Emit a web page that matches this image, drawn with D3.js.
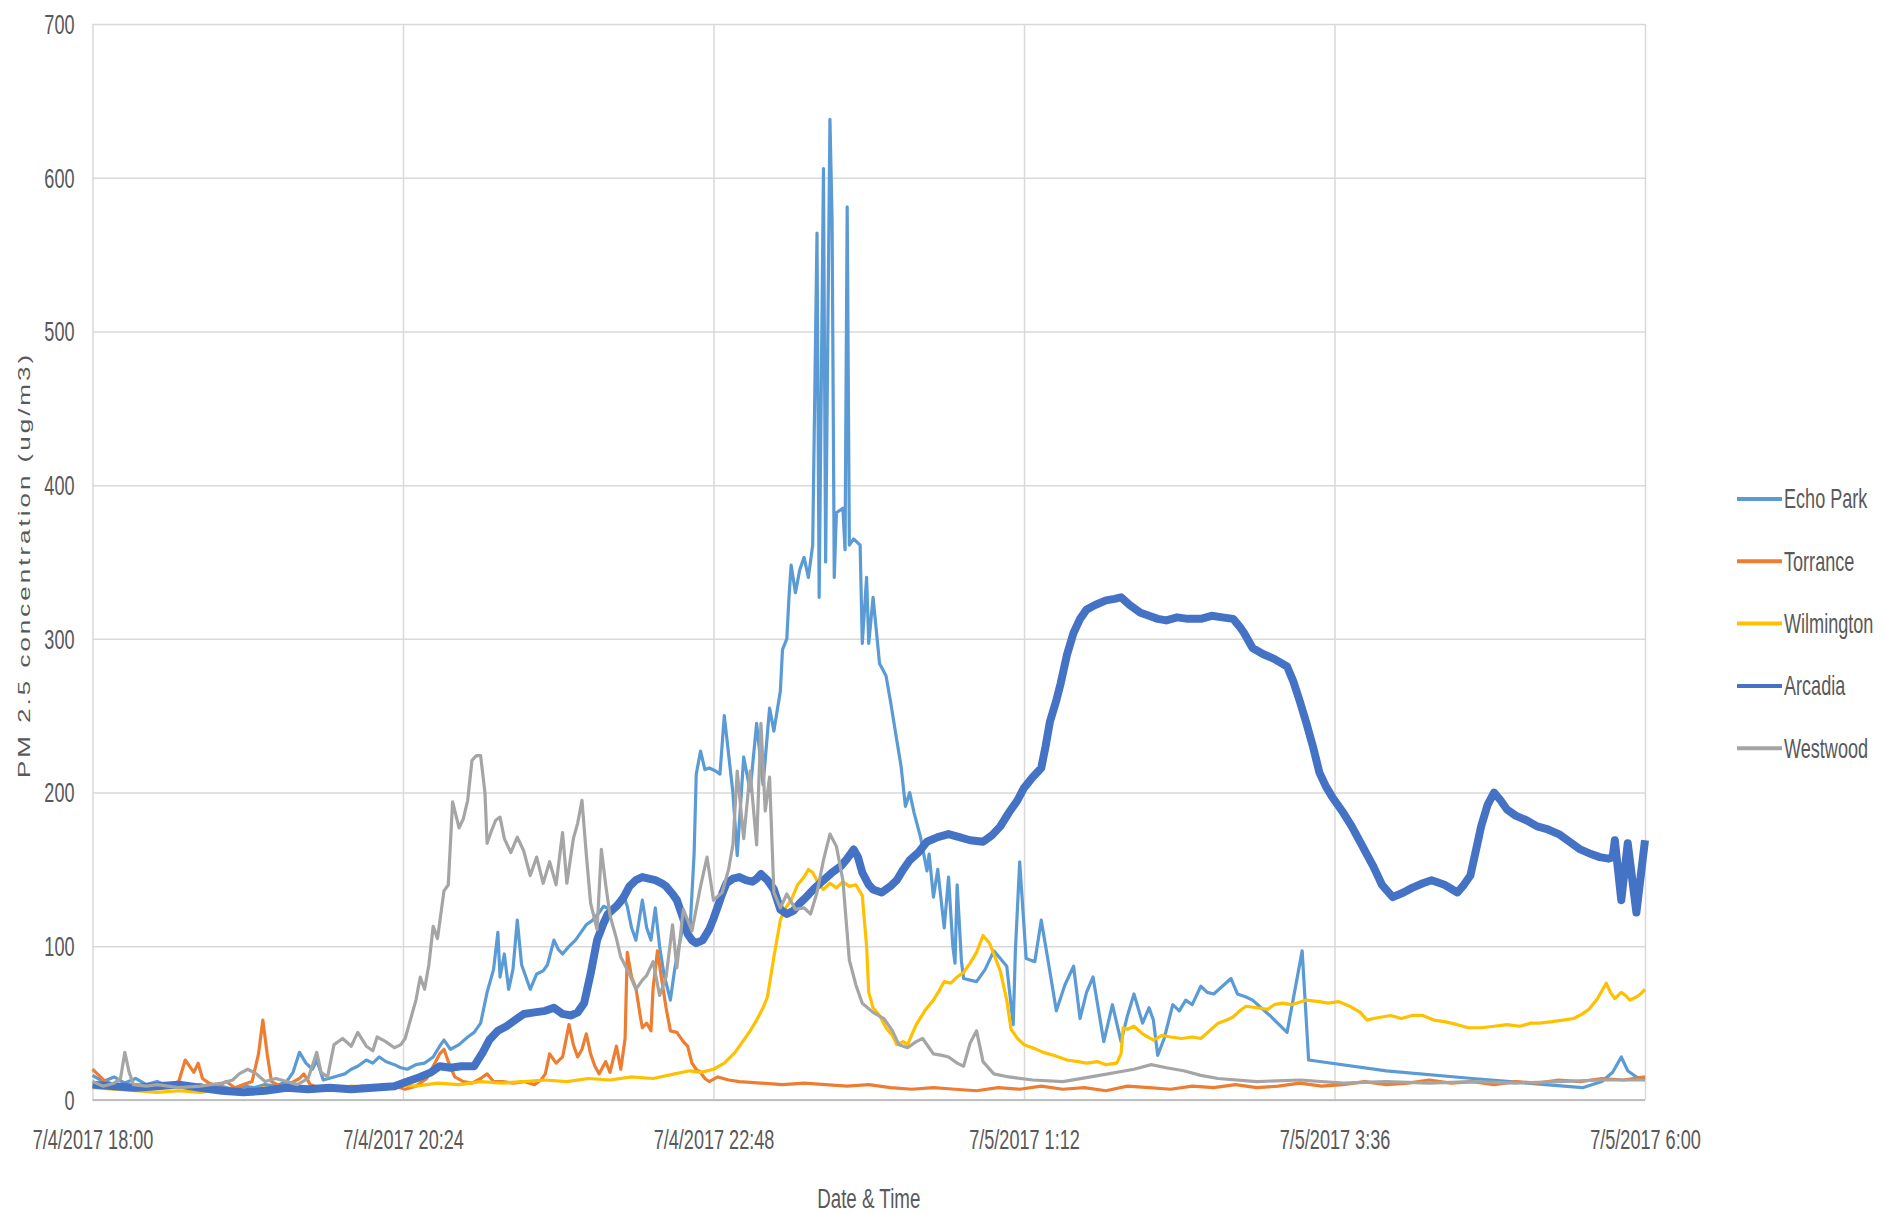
<!DOCTYPE html>
<html>
<head>
<meta charset="utf-8">
<script src="https://cdn.jsdelivr.net/npm/d3@7"></script>
<style>
  body { margin: 0; background: #fff; }
  text { font-family: "Liberation Sans", Arial, sans-serif; fill: #595959; }
</style>
</head>
<body>
<svg id="chart" width="1885" height="1214"></svg>
<script>
// time is minutes after 7/4/2017 18:00, value is PM 2.5 in ug/m3
const echoPark = [[0,16],[5,12],[10,15],[15,11],[20,14],[25,10],[30,12],[35,9],[40,11],[45,8],[50,10],[55,8],[60,9],[65,7],[70,9],[75,8],[80,10],[85,9],[90,12],[93,18],[96,31],[99,24],[102,20],[104,26],[107,13],[112,15],[117,17],[120,20],[123,22],[127,26],[130,24],[133,28],[136,25],[140,23],[143,21],[146,20],[150,23],[154,24],[158,28],[161,35],[163,39],[166,33],[170,36],[174,41],[177,44],[180,50],[183,70],[186,85],[188,109],[189,80],[191,95],[193,72],[195,85],[197,117],[199,88],[201,80],[203,72],[206,82],[209,84],[211,88],[214,104],[216,98],[218,95],[221,100],[224,104],[227,110],[229,114],[232,117],[235,122],[237,126],[240,124],[243,128],[246,134],[248,126],[250,112],[252,104],[255,130],[257,112],[259,104],[261,125],[263,100],[265,82],[268,65],[270,85],[272,100],[274,114],[277,108],[279,160],[280,212],[282,227],[284,215],[286,216],[289,214],[291,212],[293,250],[295,225],[297,200],[299,159],[302,223],[305,201],[308,245],[311,205],[314,255],[316,240],[319,266],[320,293],[322,300],[323,327],[324,348],[326,330],[328,345],[330,353],[332,340],[334,361],[336,564],[337,327],[339,606],[340,350],[342,638],[343,572],[344,340],[345,382],[348,385],[349,358],[350,581],[351,361],[353,365],[356,361],[357,297],[359,340],[360,297],[362,327],[365,284],[368,276],[370,260],[373,234],[375,217],[377,191],[379,200],[381,187],[384,171],[387,149],[388,160],[390,132],[392,150],[395,112],[397,145],[399,100],[400,89],[401,140],[403,90],[404,79],[407,78],[410,77],[414,85],[418,97],[421,92],[424,87],[427,49],[428,97],[430,155],[433,92],[437,90],[440,117],[443,92],[447,58],[451,75],[455,87],[458,53],[461,70],[464,80],[469,38],[473,62],[477,38],[480,55],[483,69],[487,50],[490,60],[492,52],[494,29],[497,40],[501,62],[504,58],[507,65],[510,62],[514,74],[517,70],[520,69],[524,74],[528,79],[531,69],[535,67],[538,65],[546,55],[554,44],[561,97],[564,26],[600,19],[640,14],[691,8],[700,12],[705,18],[709,28],[712,19],[716,15],[720,13]];

const torrance = [[0,20],[3,16],[6,12],[10,10],[15,9],[20,10],[25,8],[30,10],[35,9],[40,12],[43,26],[45,22],[47,18],[49,24],[51,14],[54,11],[58,9],[62,12],[66,8],[70,10],[74,12],[77,30],[79,52],[81,30],[83,12],[87,9],[92,11],[96,14],[98,17],[101,10],[105,8],[110,9],[115,7],[120,8],[125,9],[130,8],[135,10],[140,9],[145,7],[150,9],[155,14],[158,22],[161,30],[163,33],[165,25],[168,15],[172,12],[176,11],[180,14],[183,17],[186,12],[190,12],[195,11],[200,12],[205,10],[208,13],[210,17],[212,30],[215,24],[218,28],[221,49],[223,36],[225,28],[227,33],[229,43],[231,30],[233,22],[235,17],[238,25],[240,18],[243,35],[245,20],[247,40],[248,96],[250,80],[252,73],[254,55],[255,47],[257,50],[259,45],[260,73],[262,97],[264,78],[266,60],[268,45],[271,44],[274,38],[276,35],[278,24],[280,20],[282,18],[284,14],[286,12],[290,15],[295,13],[300,12],[310,11],[320,10],[330,11],[340,10],[350,9],[360,10],[370,8],[380,7],[390,8],[400,7],[410,6],[420,8],[430,7],[440,9],[450,7],[460,8],[470,6],[480,9],[490,8],[500,7],[510,9],[520,8],[530,10],[540,8],[550,9],[560,11],[570,9],[580,10],[590,12],[600,10],[610,11],[620,13],[630,11],[640,12],[650,10],[660,12],[670,11],[680,13],[690,12],[700,14],[710,13],[720,15]];

const wilmington = [[0,8],[10,7],[20,6],[30,5],[40,6],[50,5],[60,7],[70,6],[80,8],[90,7],[100,8],[110,7],[120,9],[130,8],[140,10],[150,9],[160,11],[170,10],[180,12],[190,11],[200,12],[210,13],[220,12],[230,14],[240,13],[250,15],[260,14],[270,17],[277,19],[282,18],[288,20],[293,24],[298,31],[302,39],[305,45],[308,52],[311,60],[313,67],[316,93],[319,117],[321,124],[324,130],[327,140],[330,145],[332,150],[334,148],[337,140],[339,137],[342,141],[345,138],[348,142],[351,139],[354,140],[357,133],[359,100],[360,70],[362,60],[365,55],[368,47],[371,42],[373,36],[376,38],[378,36],[382,49],[386,58],[390,65],[393,72],[395,77],[398,76],[401,80],[404,83],[407,89],[410,96],[413,107],[416,102],[418,95],[421,84],[424,65],[426,46],[429,40],[432,36],[436,34],[441,31],[446,29],[452,26],[457,25],[461,24],[466,25],[470,23],[475,24],[477,30],[478,47],[480,46],[483,48],[487,43],[492,39],[496,42],[500,41],[505,40],[510,41],[514,40],[518,45],[522,50],[526,52],[529,54],[532,58],[535,61],[540,60],[545,59],[548,62],[552,63],[556,62],[563,65],[569,64],[573,63],[578,64],[583,61],[588,57],[591,52],[594,53],[598,54],[602,55],[607,53],[612,55],[617,55],[622,52],[627,51],[633,49],[638,47],[644,47],[650,48],[656,49],[662,48],[667,50],[671,50],[677,51],[682,52],[687,53],[691,56],[694,59],[698,66],[702,76],[704,70],[706,66],[709,70],[711,68],[713,65],[716,67],[718,69],[720,72]];

const arcadia = [[0,10],[10,9],[20,8],[30,9],[40,10],[50,8],[60,6],[70,5],[80,6],[90,8],[100,7],[110,8],[120,7],[130,8],[140,9],[146,12],[152,15],[157,18],[161,22],[166,21],[171,22],[177,22],[181,31],[184,39],[188,45],[192,48],[196,52],[200,56],[205,57],[210,58],[214,60],[218,56],[222,55],[225,57],[228,63],[231,82],[234,104],[237,115],[239,121],[243,126],[246,131],[249,139],[252,143],[255,145],[258,144],[261,143],[264,141],[266,139],[269,134],[271,130],[274,118],[276,108],[278,104],[280,102],[283,104],[286,111],[288,118],[290,126],[292,134],[294,141],[297,144],[300,145],[303,143],[306,142],[308,144],[310,147],[313,143],[316,137],[319,124],[322,121],[325,123],[328,128],[331,132],[335,138],[339,143],[343,148],[347,152],[350,157],[353,163],[355,158],[357,148],[360,140],[362,137],[366,135],[370,139],[373,143],[376,150],[379,156],[383,161],[387,168],[392,171],[397,173],[402,171],[407,169],[413,168],[417,172],[421,178],[425,187],[429,195],[432,203],[436,210],[440,216],[442,230],[444,246],[447,260],[449,271],[452,290],[455,304],[458,313],[461,319],[465,322],[470,325],[474,326],[477,327],[481,322],[486,317],[490,315],[494,313],[498,312],[503,314],[508,313],[514,313],[519,315],[524,314],[529,313],[532,308],[534,304],[538,294],[543,290],[548,287],[554,282],[557,272],[560,259],[563,245],[566,230],[569,213],[572,204],[575,197],[580,187],[584,178],[589,165],[594,152],[598,140],[603,132],[608,135],[612,138],[617,141],[621,143],[627,140],[633,135],[636,140],[639,146],[642,165],[644,178],[647,192],[650,200],[653,195],[656,189],[660,185],[665,182],[670,178],[675,176],[680,173],[685,168],[690,163],[695,160],[699,158],[703,157],[705,158],[706,169],[709,130],[712,167],[716,122],[720,169]];

const westwood = [[0,12],[5,9],[10,11],[13,14],[15,31],[17,18],[19,10],[25,9],[30,10],[40,8],[50,9],[60,11],[65,13],[68,17],[72,20],[76,17],[80,12],[85,14],[90,12],[95,10],[100,14],[104,31],[106,18],[109,15],[112,36],[116,40],[120,35],[123,44],[127,35],[130,32],[132,41],[136,38],[140,34],[143,36],[145,40],[147,50],[150,65],[152,80],[154,72],[156,88],[158,113],[160,105],[163,136],[165,140],[167,194],[170,177],[172,183],[174,195],[176,221],[178,224],[180,224],[182,200],[183,167],[185,175],[187,182],[189,184],[191,170],[194,161],[197,171],[200,162],[203,146],[206,158],[209,141],[212,155],[215,140],[218,174],[220,141],[223,170],[225,180],[227,195],[229,160],[231,128],[234,111],[236,163],[238,140],[240,120],[243,105],[245,93],[249,82],[252,72],[255,78],[257,81],[260,90],[263,68],[266,80],[269,114],[271,86],[274,124],[278,110],[282,139],[285,158],[288,130],[292,135],[295,150],[297,166],[299,214],[302,170],[305,214],[308,166],[310,245],[312,188],[314,210],[316,135],[319,125],[322,134],[326,124],[330,125],[333,121],[336,135],[339,156],[342,173],[345,165],[348,143],[351,91],[354,75],[357,63],[362,57],[367,53],[371,45],[374,36],[378,34],[382,38],[385,40],[388,34],[390,30],[394,29],[397,28],[401,24],[404,22],[407,37],[410,45],[413,25],[418,17],[425,15],[436,13],[450,12],[467,16],[483,20],[491,23],[498,21],[506,19],[514,16],[522,14],[540,12],[560,13],[580,11],[600,12],[620,11],[640,12],[660,11],[680,12],[700,13],[720,13]];

const seriesNames = ["Echo Park", "Torrance", "Wilmington", "Arcadia", "Westwood"];
const seriesData = [echoPark, torrance, wilmington, arcadia, westwood];
const seriesColors = ["#5B9BD5", "#ED7D31", "#FFC000", "#4472C4", "#A5A5A5"];

const xTickMinutes = [0, 144, 288, 432, 576, 720];
const xTickLabels = ["7/4/2017 18:00", "7/4/2017 20:24", "7/4/2017 22:48", "7/5/2017 1:12", "7/5/2017 3:36", "7/5/2017 6:00"];
const yTickValues = [0, 100, 200, 300, 400, 500, 600, 700];

const plotLeft = 92.5, plotRight = 1645, plotTop = 24, plotBottom = 1100;
const squeeze = 0.67; // text in the picture is narrow

const svg = d3.select("#chart");

const x = d3.scaleLinear().domain([0, 720]).range([plotLeft, plotRight]);
const y = d3.scaleLinear().domain([0, 700]).range([plotBottom, plotTop]);

// horizontal gridlines + y labels
const yAxis = svg.append("g")
  .attr("transform", `translate(${plotLeft},0)`)
  .call(d3.axisLeft(y).tickValues(yTickValues).tickSize(-(plotRight - plotLeft)).tickFormat(d3.format("d")));
yAxis.select(".domain").remove();
yAxis.selectAll(".tick line").attr("stroke", "#d9d9d9").attr("stroke-width", 1.5);
yAxis.selectAll(".tick text")
  .attr("x", null).attr("dy", null)
  .attr("text-anchor", "end")
  .attr("dominant-baseline", "central")
  .attr("font-size", 27)
  .attr("transform", `translate(-18,0) scale(${squeeze},1)`);

// vertical gridlines + x labels
const xAxis = svg.append("g")
  .attr("transform", `translate(0,${plotBottom})`)
  .call(d3.axisBottom(x).tickValues(xTickMinutes).tickSize(-(plotBottom - plotTop)).tickFormat((d, i) => xTickLabels[i]));
xAxis.select(".domain").remove();
xAxis.selectAll(".tick line").attr("stroke", "#d9d9d9").attr("stroke-width", 1.5);
xAxis.selectAll(".tick text")
  .attr("y", null).attr("dy", null)
  .attr("text-anchor", "middle")
  .attr("dominant-baseline", "central")
  .attr("font-size", 27)
  .attr("transform", `translate(0,40) scale(${squeeze},1)`);

// zero line
svg.append("line")
  .attr("x1", plotLeft).attr("x2", plotRight)
  .attr("y1", y(0)).attr("y2", y(0))
  .attr("stroke", "#bfbfbf").attr("stroke-width", 2);

// series
const line = d3.line().x(d => x(d[0])).y(d => y(d[1]));
svg.append("g").selectAll("path")
  .data(seriesData)
  .join("path")
  .attr("d", line)
  .attr("fill", "none")
  .attr("stroke", (d, i) => seriesColors[i])
  .attr("stroke-width", (d, i) => seriesNames[i] === "Arcadia" ? 8 : 3.2)
  .attr("stroke-linejoin", "round");

// axis titles
svg.append("text")
  .attr("transform", `translate(24,565) rotate(-90) scale(1,${squeeze})`)
  .attr("text-anchor", "middle")
  .attr("dominant-baseline", "central")
  .attr("font-size", 26)
  .attr("letter-spacing", 3)
  .text("PM 2.5 concentration (ug/m3)");

svg.append("text")
  .attr("transform", `translate(${(plotLeft + plotRight) / 2},1198) scale(${squeeze},1)`)
  .attr("text-anchor", "middle")
  .attr("dominant-baseline", "central")
  .attr("font-size", 28)
  .text("Date & Time");

// legend
const legend = svg.append("g").selectAll("g")
  .data(seriesNames)
  .join("g")
  .attr("transform", (d, i) => `translate(1737,${499 + i * 62.3})`);
legend.append("line")
  .attr("x1", 0).attr("x2", 45)
  .attr("stroke", (d, i) => seriesColors[i])
  .attr("stroke-width", 4);
legend.append("text")
  .attr("transform", `translate(47,0) scale(${squeeze},1)`)
  .attr("dominant-baseline", "central")
  .attr("font-size", 27)
  .text(d => d);
</script>
</body>
</html>
